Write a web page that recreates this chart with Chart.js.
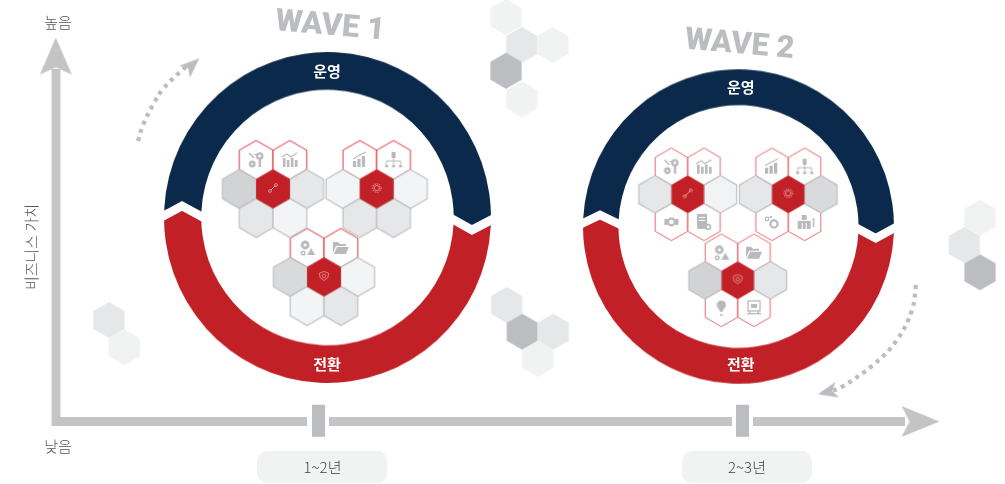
<!DOCTYPE html>
<html lang="ko">
<head>
<meta charset="utf-8">
<style>
html,body{margin:0;padding:0;background:#fff;width:1005px;height:484px;overflow:hidden}
.ring{position:absolute}
#main{position:absolute;left:0;top:0}
</style>
<script src="https://cdn.jsdelivr.net/npm/chart.js@4"></script>
</head>
<body>
<div class="ring" id="w1" style="left:163.5px;top:54.3px;width:327px;height:327px;transform:scaleY(1.012)"><canvas id="ring1" width="327" height="327"></canvas></div>
<div class="ring" id="w2" style="left:582.5px;top:71px;width:311px;height:311px;transform:scaleY(1.011)"><canvas id="ring2" width="311" height="311"></canvas></div>
<canvas id="main" width="1005" height="484"></canvas>
<script>
/* ---------- data ---------- */
const ringLabels = ['운영', '전환'];
const ringShares = [180, 180];
const ringColors = ['#0a294b', '#c12026'];

const yAxisX = [56, 56, 307];
const yAxisY = [69, 421.5, 421.5];
const xAxisMidX = [329, 732];
const xAxisEndX = [753, 905];
const xAxisLevel = [421.5, 421.5];

const periodLabels = ['1~2년', '2~3년'];
const periodX = [318.5, 742.5];
const periodTickTop = 404.7;
const periodTickBottom = 436.7;
const periodLabelY = 467;

const dots1X = [138, 143, 154, 163, 180, 188];
const dots1Y = [141, 125, 103, 89, 72, 65];
const dots2X = [916, 912, 897, 873, 840, 830];
const dots2Y = [285, 310, 340, 365, 388, 391];

const chevronW1LeftX = [158, 182, 206];  const chevronW1LeftY = [219, 206, 219];
const chevronW1RightX = [447, 472, 497]; const chevronW1RightY = [216, 230, 217];
const chevronW2LeftX = [576, 600, 624];  const chevronW2LeftY = [226.5, 215, 226.5];
const chevronW2RightX = [851, 875.7, 900]; const chevronW2RightY = [225, 238.3, 225];

const backHexX = [506, 521.7, 552.7, 506, 521.7, 109, 124.3, 506.7, 522.3, 553.3, 537.7, 980, 964.3, 980];
const backHexY = [17, 45, 45, 70.7, 99.3, 320, 347.3, 305, 331.7, 331.7, 359, 217.7, 245, 272.3];
const backHexFill = ['#f1f2f2','#e6e7e8','#f1f2f2','#bcbdc0','#f1f2f2','#e6e7e8','#f1f2f2','#e6e7e8','#bcbdc0','#e6e7e8','#f1f2f2','#f1f2f2','#e6e7e8','#bcbdc0'];

const clusterX = [273, 376.7, 324, 687.7, 788.3, 737.7];
const clusterY = [189, 189, 277, 194.3, 194.3, 280.3];
const clusterWave = [1, 1, 1, 2, 2, 2];
/* cells: upper-left, upper-right, mid-left, mid-right, lower-left, lower-right; "o" = red outline */
const clusterCells = [
  ['o','o','#d1d3d4','#e6e7e8','#e6e7e8','#f3f4f6'],
  ['o','o','#f3f4f6','#f3f4f6','#e6e7e8','#e6e7e8'],
  ['o','o','#d9dadc','#f3f4f6','#f3f4f6','#e6e7e8'],
  ['o','o','#e6e7e8','#f1f3f5','o','o'],
  ['o','o','#e6e7e8','#d9dadc','o','o'],
  ['o','o','#d1d3d4','#e6e7e8','o','o']
];
const clusterIcons = [
  ['tools','flatBars',null,null,null,null],
  ['risingBars','org',null,null,null,null],
  ['gearTri','folder',null,null,null,null],
  ['tools','flatBars',null,null,'gearBox','doc'],
  ['risingBars','org',null,null,'gears','people'],
  ['gearTri','folder',null,null,'bulb','monitor']
];
const clusterCenterIcons = ['link','gear','shield','link','gear','shield'];

const textItems = [
  {t:'WAVE 1', x:330, y:27, r:5, f:'900 31px Roboto', c:'#bcbdc0'},
  {t:'WAVE 2', x:739.5, y:45.5, r:5, f:'900 31px Roboto', c:'#bcbdc0'},
  {t:'운영', x:327, y:71, r:0, f:'700 15px "Noto Sans CJK KR"', c:'#ffffff'},
  {t:'전환', x:327, y:364, r:0, f:'700 15px "Noto Sans CJK KR"', c:'#ffffff'},
  {t:'운영', x:740.7, y:87.5, r:0, f:'700 15px "Noto Sans CJK KR"', c:'#ffffff'},
  {t:'전환', x:740.7, y:364.5, r:0, f:'700 15px "Noto Sans CJK KR"', c:'#ffffff'},
  {t:'높음', x:58, y:22.5, r:0, f:'300 15px "Noto Sans CJK KR"', c:'#555555'},
  {t:'낮음', x:58, y:446, r:0, f:'300 15px "Noto Sans CJK KR"', c:'#555555'},
  {t:'비즈니스 가치', x:31, y:247, r:-90, f:'300 15px "Noto Sans CJK KR"', c:'#555555'},
  {t:periodLabels[0], x:322.5, y:periodLabelY, r:0, f:'300 15px "Noto Sans CJK KR"', c:'#444444'},
  {t:periodLabels[1], x:747, y:periodLabelY, r:0, f:'300 15px "Noto Sans CJK KR"', c:'#444444'}
];

/* ---------- sprites used as point styles ---------- */
function sprite(w, h, draw){
  const c = document.createElement('canvas');
  c.width = w; c.height = h;
  draw(c.getContext('2d'), w, h);
  return c;
}
function hexSprite(r, fill, stroke, lw){
  const hw = r * Math.sqrt(3) / 2, pad = 2;
  return sprite(Math.ceil(hw*2+pad*2), Math.ceil(r*2+pad*2), (g,w,h)=>{
    const cx=w/2, cy=h/2;
    g.beginPath();
    g.moveTo(cx,cy-r); g.lineTo(cx+hw,cy-r/2); g.lineTo(cx+hw,cy+r/2);
    g.lineTo(cx,cy+r); g.lineTo(cx-hw,cy+r/2); g.lineTo(cx-hw,cy-r/2); g.closePath();
    if(fill){g.fillStyle=fill; g.fill();}
    if(stroke){g.strokeStyle=stroke; g.lineWidth=lw; g.lineJoin='miter'; g.stroke();}
  });
}
function arrowSprite(len, half, notch, color){
  return sprite(len+2, half*2+2, (g,w,h)=>{
    const cy=h/2;
    g.fillStyle=color; g.beginPath();
    g.moveTo(1,cy-half); g.lineTo(len+1,cy); g.lineTo(1,cy+half); g.lineTo(1+notch,cy); g.closePath(); g.fill();
  });
}
function pillSprite(w,h,rad,color){
  return sprite(w,h,(g)=>{g.fillStyle=color; g.beginPath(); g.roundRect(0,0,w,h,rad); g.fill();});
}
const G='#b8b9bc';
function ring(g,x,y,r,lw,c){g.strokeStyle=c;g.lineWidth=lw;g.beginPath();g.arc(x,y,r,0,7);g.stroke();}
function box(g,x,y,w,h,c){g.fillStyle=c;g.fillRect(x,y,w,h);}
function poly(g,pts,c){g.fillStyle=c;g.beginPath();pts.forEach((p,i)=>i?g.lineTo(p[0],p[1]):g.moveTo(p[0],p[1]));g.closePath();g.fill();}
function path(g,pts,c,lw){g.strokeStyle=c;g.lineWidth=lw;g.beginPath();pts.forEach((p,i)=>i?g.lineTo(p[0],p[1]):g.moveTo(p[0],p[1]));g.stroke();}
const iconDraw = {
  tools(g){ring(g,13.5,6,2.6,2.4,G);box(g,12.5,8,2.4,9,G);ring(g,6,14,2.2,2.4,G);path(g,[[3,3],[8,8]],G,1.6);box(g,8,4,2,1.2,G);},
  flatBars(g){[3,7,11,15].forEach((x,i)=>box(g,x,8+(i%2?2:0),2.6,9-(i%2?2:0),G));path(g,[[2,7],[7,4],[11,7],[17,3]],G,1.1);},
  risingBars(g){box(g,3,11,3.2,6,G);box(g,7.5,9,3.2,8,G);box(g,12,6,3.2,11,G);path(g,[[3,9],[8,6],[12,4],[16,2]],G,1.1);},
  org(g){box(g,8,2,4,6,G);path(g,[[10,8],[10,11]],G,1);path(g,[[3,15],[3,11],[17,11],[17,15]],G,1);path(g,[[10,11],[10,15]],G,1);box(g,1.5,15,3,2.4,G);box(g,8.5,15,3,2.4,G);box(g,15.5,15,3,2.4,G);},
  gearTri(g){ring(g,8,7,3,2.8,G);ring(g,6,15,1.8,1.4,G);poly(g,[[10,17],[14,10],[18,17]],G);},
  folder(g){poly(g,[[2,15],[2,4],[7,4],[9,6],[15,6],[15,8],[5,8]],G);poly(g,[[3,16],[6,9],[18,9],[15,16]],G);},
  gearBox(g){ring(g,10,10,3.4,2.2,G);box(g,3,7,3,6,G);box(g,14,7,3,6,G);},
  doc(g){box(g,3,2,10,15,G);box(g,5,5,6,1,'#fff');box(g,5,8,6,1,'#fff');ring(g,14,15,2.4,1.6,G);},
  gears(g){ring(g,12,12,3.6,2.2,G);ring(g,5,7,1.8,1.3,G);box(g,8,4,2,2,G);},
  people(g){box(g,7,3,5,5,G);box(g,3,9,13,8,G);box(g,7,11,1,6,'#fff');box(g,11,11,1,6,'#fff');box(g,18,6,1.4,9,G);},
  bulb(g){g.fillStyle=G;g.beginPath();g.arc(10,7,4.6,0,7);g.fill();poly(g,[[7,10],[13,10],[11,14],[9,14]],G);box(g,9,16,2,2,G);},
  monitor(g){g.strokeStyle=G;g.lineWidth=1.3;g.strokeRect(4,3,12,10);box(g,7,6,6,4,G);box(g,3,15,14,1.4,G);box(g,5,13,1.4,2,G);box(g,13.6,13,1.4,2,G);},
  link(g){const c='#e79a9d';path(g,[[8,12],[12,8]],c,1);ring(g,13,7,1.4,.9,c);ring(g,7,13,1.4,.9,c);},
  gear(g){const c='#e9a6a9';ring(g,10,10,2.6,.8,c);g.setLineDash([1.2,1.2]);ring(g,10,10,4.2,1.1,c);g.setLineDash([]);},
  shield(g){const c='#e79a9d';g.strokeStyle=c;g.lineWidth=.8;g.beginPath();g.moveTo(10,5.5);g.lineTo(14.5,7);g.lineTo(14,11.5);g.lineTo(10,14.5);g.lineTo(6,11.5);g.lineTo(5.5,7);g.closePath();g.stroke();ring(g,10,10,1.8,.8,c);}
};
const iconSprites = {};
Object.keys(iconDraw).forEach(k=>{iconSprites[k]=sprite(20,20,iconDraw[k]);});

/* ---------- build tables from the arrays ---------- */
const cellCol = [-.5,.5,-1,1,-.5,.5];
const cellRow = [-1,-1,0,0,1,1];
const geom = {1:{r:19.5,dx:33.7,dy:29,o:'#e2353b',lw:1},2:{r:18.7,dx:32.7,dy:27.6,o:'#e95a60',lw:.9}};
const hexLayers = {outline:[], grey:[], red:[], icons:[]};
clusterX.forEach((cx,i)=>{
  const g = geom[clusterWave[i]], cy = clusterY[i];
  clusterCells[i].forEach((fill,j)=>{
    const pt = {x:cx+cellCol[j]*g.dx, y:cy+cellRow[j]*g.dy};
    if(fill==='o') hexLayers.outline.push({...pt, style:hexSprite(g.r,'#ffffff',g.o,g.lw)});
    else hexLayers.grey.push({...pt, style:hexSprite(g.r,fill,'#bcbdc0',1.1)});
    const ic = clusterIcons[i][j];
    if(ic) hexLayers.icons.push({...pt, style:iconSprites[ic]});
  });
  hexLayers.red.push({x:cx,y:cy,style:hexSprite(g.r,'#c12026',null,0)});
  hexLayers.icons.push({x:cx,y:cy-1,style:iconSprites[clusterCenterIcons[i]]});
});
function xy(xs,ys){return xs.map((x,i)=>({x,y:ys[i]}));}
function lineSet(data,color,width,extra){
  return Object.assign({type:'line',data,borderColor:color,borderWidth:width,pointRadius:0,fill:false,
    tension:0,borderCapStyle:'butt',borderJoinStyle:'miter'},extra||{});
}
function spriteSet(points){
  return {type:'scatter',data:points.map(p=>({x:p.x,y:p.y})),showLine:false,pointRadius:10,pointHoverRadius:10,borderWidth:0,
    pointStyle:points.map(p=>p.style),pointRotation:points.map(p=>p.rot||0)};
}
const axisColor='#c4c4c4', tickColor='#bcbdc0';
const arrowUp = arrowSprite(37,16,7,axisColor);
const arrowRight = arrowSprite(38,15.5,8,axisColor);
const smallArrow = arrowSprite(20,8,5,tickColor);
const backPoints = backHexX.map((x,i)=>({x,y:backHexY[i],style:hexSprite(18,backHexFill[i],null,0)}));
const pills = periodX.map((x,i)=>({x:[322.3,746.7][i],y:467,style:pillSprite(130,32,10,'#f1f2f2')}));

const labelPlugin = {
  id:'labels',
  afterDatasetsDraw(chart){
    const g=chart.ctx, sx=chart.scales.x, sy=chart.scales.y;
    textItems.forEach(it=>{
      g.save();
      g.translate(sx.getPixelForValue(it.x),sy.getPixelForValue(it.y));
      g.rotate(it.r*Math.PI/180);
      g.font=it.f; g.fillStyle=it.c; g.textAlign='center'; g.textBaseline='middle';
      g.fillText(it.t,0,0);
      g.restore();
    });
  }
};

function ringChart(id,rotation){
  new Chart(document.getElementById(id),{
    type:'doughnut',
    data:{labels:ringLabels,datasets:[{data:ringShares,backgroundColor:ringColors,borderWidth:0}]},
    options:{responsive:false,animation:false,cutout:'77.2%',rotation,
      layout:{padding:0},plugins:{legend:{display:false},tooltip:{enabled:false}},events:[]}
  });
}
ringChart('ring1',273);
ringChart('ring2',273);

/* Chart.js paints the first dataset last, so the list is reversed: background first in reading order */
const paintOrder = [
    spriteSet(backPoints),
    spriteSet(pills),
    lineSet(xy([...yAxisX],[...yAxisY]),axisColor,8.8),
    lineSet(xy(xAxisMidX,xAxisLevel),axisColor,8.8),
    lineSet(xy(xAxisEndX,xAxisLevel),axisColor,8.8),
    lineSet(xy([periodX[0],periodX[0]],[periodTickTop,periodTickBottom]),tickColor,13),
    lineSet(xy([periodX[1],periodX[1]],[periodTickTop,periodTickBottom]),tickColor,13),
    spriteSet([{x:55.8,y:56,style:arrowUp,rot:-90},{x:920.5,y:421.5,style:arrowRight,rot:0},
               {x:192,y:65,style:smallArrow,rot:-42},{x:827.5,y:392,style:smallArrow,rot:167}]),
    lineSet(xy(dots1X,dots1Y),tickColor,4.2,{tension:.4,borderDash:[4,4.6]}),
    lineSet(xy(dots2X,dots2Y),tickColor,4.2,{tension:.4,borderDash:[4,4.6]}),
    lineSet(xy(chevronW1LeftX,chevronW1LeftY),'#ffffff',8.8),
    lineSet(xy(chevronW1RightX,chevronW1RightY),'#ffffff',8.8),
    lineSet(xy(chevronW2LeftX,chevronW2LeftY),'#ffffff',8.4),
    lineSet(xy(chevronW2RightX,chevronW2RightY),'#ffffff',8.4),
    spriteSet(hexLayers.outline),
    spriteSet(hexLayers.grey),
    spriteSet(hexLayers.red),
    spriteSet(hexLayers.icons)
];
new Chart(document.getElementById('main'),{
  type:'scatter',
  data:{datasets:paintOrder.slice().reverse()},
  options:{
    responsive:false,animation:false,events:[],layout:{padding:0,autoPadding:false},
    clip:false,
    scales:{
      x:{type:'linear',min:0,max:1005,display:false},
      y:{type:'linear',min:0,max:484,reverse:true,display:false}
    },
    plugins:{legend:{display:false},tooltip:{enabled:false}}
  },
  plugins:[labelPlugin]
});
</script>
</body>
</html>
